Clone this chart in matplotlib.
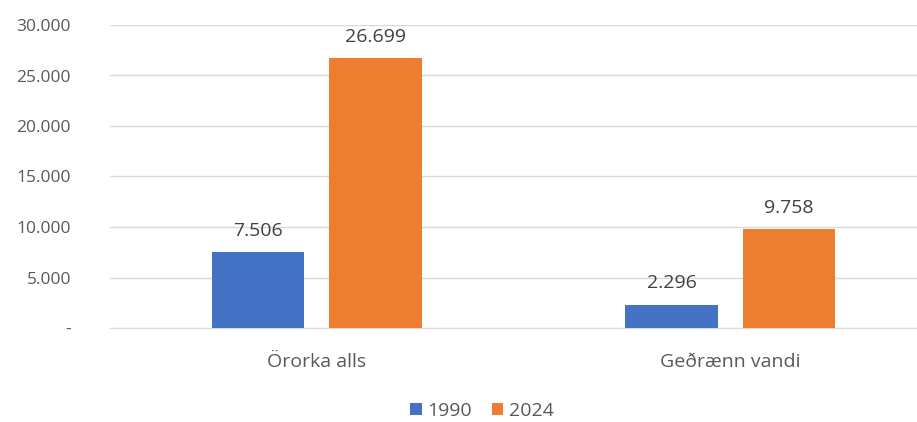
import matplotlib.pyplot as plt
import numpy as np

categories = ['Örorka alls', 'Geðrænn vandi']
years = ['1990', '2024']
values_1990 = [7506, 2296]
values_2024 = [26699, 9758]
yticks = [0, 5000, 10000, 15000, 20000, 25000, 30000]

plt.rcParams['font.family'] = ['Open Sans', 'DejaVu Sans']
text_col = '#595959'


def fmt(v):
    if v == 0:
        return '-'
    return f'{v:,.0f}'.replace(',', '.')


fig = plt.figure(figsize=(9.17, 4.22), dpi=100)
ax = fig.add_axes([110 / 917, 94 / 422, 827 / 917, 303 / 422])

x = np.arange(len(categories))
w = 0.223
off = 0.142
b1 = ax.bar(x - off, values_1990, w, color='#4472C4', label=years[0], zorder=3)
b2 = ax.bar(x + off, values_2024, w, color='#ED7D31', label=years[1], zorder=3)

for bars in (b1, b2):
    for r in bars:
        h = r.get_height()
        ax.annotate(fmt(h), (r.get_x() + r.get_width() / 2, h),
                    xytext=(0, 9), textcoords='offset points',
                    ha='center', va='bottom', fontsize=14, color='#404040')

ax.set_xlim(-0.5, 1.5)
ax.set_ylim(0, 30000)
ax.set_yticks(yticks)
ax.set_yticklabels([fmt(v) for v in yticks])
ax.set_xticks(x)
ax.set_xticklabels(categories)
ax.tick_params(axis='y', length=0, labelsize=12.5, colors=text_col, pad=28)
ax.tick_params(axis='x', length=0, labelsize=14, colors=text_col, pad=18)
ax.grid(axis='y', color='#D9D9D9', linewidth=1, zorder=0)
for s in ['top', 'right', 'left']:
    ax.spines[s].set_visible(False)
ax.spines['bottom'].set_color('#D9D9D9')

fig.legend(handles=[b1, b2], labels=years, loc='center', ncol=2,
           bbox_to_anchor=(482 / 917, 1 - 411 / 422), frameon=False,
           fontsize=14, labelcolor=text_col, handlelength=0.6,
           handleheight=0.6, handletextpad=0.3, columnspacing=1.0)

fig.savefig('out.png', dpi=100)
